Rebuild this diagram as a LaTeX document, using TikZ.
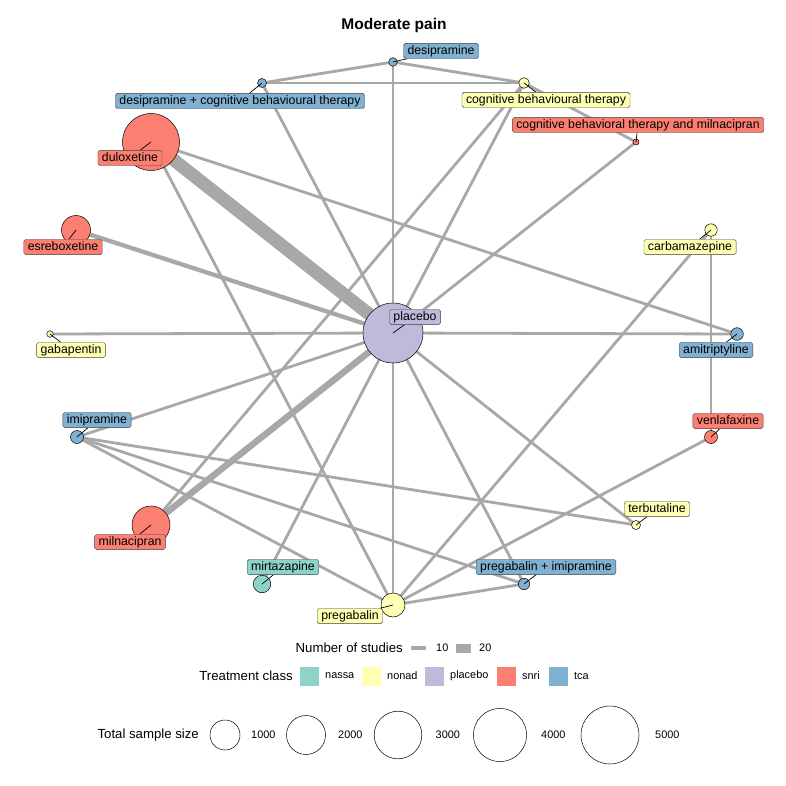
\documentclass[tikz,border=0pt]{standalone}
\usepackage{fontspec}
\setmainfont{Liberation Sans}
\definecolor{nassa}{HTML}{8DD3C7}
\definecolor{nonad}{HTML}{FFFFB3}
\definecolor{plac}{HTML}{BEBADA}
\definecolor{snri}{HTML}{FB8072}
\definecolor{tca}{HTML}{80B1D3}
\definecolor{edgegray}{RGB}{168,168,168}
\pgfdeclarelayer{edgelayer}
\pgfdeclarelayer{circlelayer}
\pgfdeclarelayer{leaderlayer}
\pgfsetlayers{edgelayer,circlelayer,leaderlayer,main}
\tikzset{
  edge/.style={draw=edgegray, line width=2.8pt},
  pt/.style={circle, draw=black, line width=0.5pt, inner sep=0pt},
  lab/.style={draw=black!75, line width=0.4pt, rounded corners=1.8pt, inner xsep=4pt, inner ysep=1.8pt, text height=8.9pt, text depth=2.6pt, font=\fontsize{12.3}{14}\selectfont},
  leader/.style={draw=black, line width=0.7pt},
  legtitle/.style={inner sep=0pt, font=\fontsize{13.2}{15}\selectfont},
  legtext/.style={inner sep=0pt, anchor=west, font=\fontsize{10.9}{13}\selectfont},
  sizecirc/.style={circle, draw=black, line width=0.5pt, inner sep=0pt},
}
\begin{document}
\begin{tikzpicture}[x=1pt,y=-1pt]
\useasboundingbox (0,0) rectangle (786,786);
\node[font=\fontsize{15.5}{18}\selectfont\bfseries, anchor=base, inner sep=0pt] (title) at (394,30) {Moderate pain};

% treatment nodes
\begin{pgfonlayer}{circlelayer}
\node[pt, fill=plac, minimum size=60pt] (P) at (393,333) {};
\node[pt, fill=tca, minimum size=8.6pt] (des) at (393,62) {};
\node[pt, fill=tca, minimum size=9pt] (dcbt) at (262,83) {};
\node[pt, fill=nonad, minimum size=10.6pt] (cbt) at (524,83) {};
\node[pt, fill=snri, minimum size=6pt] (cbtm) at (636,142) {};
\node[pt, fill=snri, minimum size=57pt] (dul) at (151,142) {};
\node[pt, fill=snri, minimum size=29pt] (esr) at (76,230) {};
\node[pt, fill=nonad, minimum size=6.6pt] (gab) at (50,334) {};
\node[pt, fill=tca, minimum size=13pt] (imi) at (77,437) {};
\node[pt, fill=snri, minimum size=38pt] (mil) at (151,525) {};
\node[pt, fill=nassa, minimum size=17.5pt] (mir) at (262,584) {};
\node[pt, fill=nonad, minimum size=24pt] (pre) at (393,605) {};
\node[pt, fill=tca, minimum size=11.4pt] (pim) at (524,584) {};
\node[pt, fill=nonad, minimum size=9pt] (ter) at (636,525) {};
\node[pt, fill=snri, minimum size=13pt] (ven) at (711,437) {};
\node[pt, fill=tca, minimum size=12.6pt] (ami) at (737,334) {};
\node[pt, fill=nonad, minimum size=12.4pt] (car) at (711,230) {};
\end{pgfonlayer}

% edges
\begin{pgfonlayer}{edgelayer}
\draw[edge] (P.center) -- (des.center);
\draw[edge] (P.center) -- (dcbt.center);
\draw[edge] (P.center) -- (cbt.center);
\draw[edge] (mil.center) -- (cbtm.center);
\draw[edge, line width=13pt] (P.center) -- (dul.center);
\draw[edge, line width=4.3pt] (P.center) -- (esr.center);
\draw[edge] (P.center) -- (gab.center);
\draw[edge] (P.center) -- (ami.center);
\draw[edge] (P.center) -- (imi.center);
\draw[edge, line width=6.5pt] (P.center) -- (mil.center);
\draw[edge] (P.center) -- (mir.center);
\draw[edge] (P.center) -- (pre.center);
\draw[edge] (P.center) -- (pim.center);
\draw[edge] (P.center) -- (ter.center);
\draw[edge] (des.center) -- (dcbt.center);
\draw[edge] (des.center) -- (cbt.center);
\draw[edge] (dcbt.center) -- (cbt.center);
\draw[edge] (cbt.center) -- (cbtm.center);
\draw[edge] (cbt.center) -- (mil.center);
\draw[edge] (dul.center) -- (ami.center);
\draw[edge] (dul.center) -- (pre.center);
\draw[edge] (car.center) -- (ven.center);
\draw[edge] (car.center) -- (pre.center);
\draw[edge] (ven.center) -- (pre.center);
\draw[edge] (imi.center) -- (ter.center);
\draw[edge] (imi.center) -- (pre.center);
\draw[edge] (imi.center) -- (pim.center);
\draw[edge] (pre.center) -- (pim.center);
\end{pgfonlayer}

% labels
\node[lab, fill=plac] (lP) at (415,317) {placebo};
\node[lab, fill=tca] (ldes) at (441,51) {desipramine};
\node[lab, fill=tca] (ldcbt) at (240,101) {desipramine + cognitive behavioural therapy};
\node[lab, fill=nonad] (lcbt) at (546,100) {cognitive behavioural therapy};
\node[lab, fill=snri] (lcbtm) at (638,125) {cognitive behavioral therapy and milnacipran};
\node[lab, fill=snri] (ldul) at (130,158) {duloxetine};
\node[lab, fill=snri] (lesr) at (63,247) {esreboxetine};
\node[lab, fill=nonad] (lgab) at (71,350) {gabapentin};
\node[lab, fill=tca] (limi) at (97,420) {imipramine};
\node[lab, fill=snri] (lmil) at (130,542) {milnacipran};
\node[lab, fill=nassa] (lmir) at (283,567) {mirtazapine};
\node[lab, fill=nonad] (lpre) at (350,616) {pregabalin};
\node[lab, fill=tca] (lpim) at (546,567) {pregabalin + imipramine};
\node[lab, fill=nonad] (lter) at (657,509) {terbutaline};
\node[lab, fill=snri] (lven) at (728,421) {venlafaxine};
\node[lab, fill=tca] (lami) at (716,350) {amitriptyline};
\node[lab, fill=nonad] (lcar) at (690,247) {carbamazepine};

% leaders
\begin{pgfonlayer}{leaderlayer}
\foreach \n in {P,des,dcbt,cbt,cbtm,dul,esr,gab,imi,mil,mir,pre,pim,ter,ven,ami,car}{
  \draw[leader] (\n.center) -- (l\n);
}
\end{pgfonlayer}

% legend: number of studies
\node[legtitle, anchor=east] (ns) at (403,648) {Number of studies};
\fill[edgegray] (411,645.75) rectangle (426,650.25);
\node[legtext] (ns10) at (436,648) {10};
\fill[edgegray] (456,643.5) rectangle (471,652.5);
\node[legtext] (ns20) at (479,648) {20};

% legend: treatment class
\node[legtitle, anchor=east] (tc) at (293,676) {Treatment class};
\fill[nassa] (300,666.5) rectangle (319,685.5);
\node[legtext] (tc1) at (325,676) {nassa};
\fill[nonad] (362,666.5) rectangle (381,685.5);
\node[legtext] (tc2) at (387,676) {nonad};
\fill[plac] (425,666.5) rectangle (444,685.5);
\node[legtext] (tc3) at (450,676) {placebo};
\fill[snri] (497,666.5) rectangle (516,685.5);
\node[legtext] (tc4) at (522,676) {snri};
\fill[tca] (549,666.5) rectangle (568,685.5);
\node[legtext] (tc5) at (574,676) {tca};

% legend: total sample size
\node[legtitle, anchor=east] (ss) at (199,735) {Total sample size};
\node[sizecirc, minimum size=30pt] (s1) at (225,735) {};
\node[legtext] (s1t) at (251,735) {1000};
\node[sizecirc, minimum size=39pt] (s2) at (306,735) {};
\node[legtext] (s2t) at (338,735) {2000};
\node[sizecirc, minimum size=47.6pt] (s3) at (398,735) {};
\node[legtext] (s3t) at (435.5,735) {3000};
\node[sizecirc, minimum size=53.2pt] (s4) at (500,735) {};
\node[legtext] (s4t) at (541,735) {4000};
\node[sizecirc, minimum size=58pt] (s5) at (610,735) {};
\node[legtext] (s5t) at (655,735) {5000};
\end{tikzpicture}
\end{document}
